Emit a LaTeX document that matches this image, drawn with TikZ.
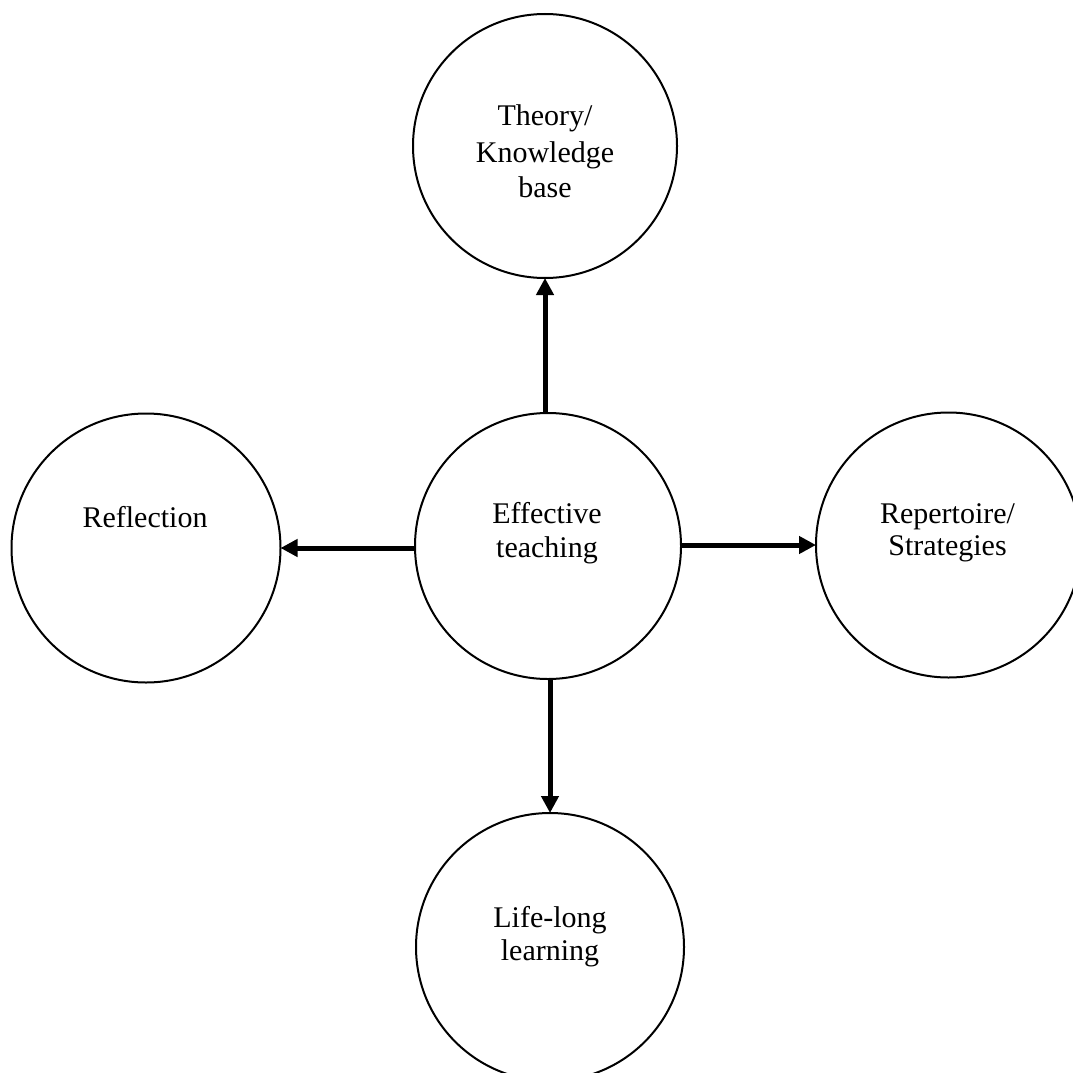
\documentclass[tikz,border=0pt]{standalone}
\usepackage{fontspec}
\setmainfont{Liberation Serif}
\usetikzlibrary{arrows.meta}
\begin{document}
\begin{tikzpicture}[x=1pt,y=-1pt,
  bubble/.style={circle,draw=black,line width=2pt,inner sep=0pt,outer sep=0pt,fill=none},
  lbl/.style={anchor=base,inner sep=0pt,font=\fontsize{30}{34}\selectfont},
  conn/.style={line width=5pt,-{Triangle[length=17pt,width=17pt]}}]
\useasboundingbox (0,0) rectangle (1072,1073);
\node[bubble,minimum size=264pt] (top) at (545,146) {};
\node[bubble,minimum size=266pt] (mid) at (548,546) {};
\node[bubble,minimum size=269pt] (left) at (146,548) {};
\node[bubble,minimum size=265pt] (right) at (948.5,545) {};
\node[bubble,minimum size=268pt] (bot) at (550,947) {};
\node[lbl] (t1) at (545,125) {Theory/};
\node[lbl] (t2) at (545,162) {Knowledge};
\node[lbl] (t3) at (545,197) {base};
\node[lbl] (m1) at (547,523) {Effective};
\node[lbl] (m2) at (547,557) {teaching};
\node[lbl] (l1) at (145,527) {Reflection};
\node[lbl] (r1) at (947.5,523) {Repertoire/};
\node[lbl] (r2) at (947.5,555) {Strategies};
\node[lbl] (b1) at (550,927) {Life-long};
\node[lbl] (b2) at (550,960) {learning};
\draw[conn] (mid.north -| top.south) -- (top.south);
\draw[conn] (mid.west |- left.east) -- (left.east);
\draw[conn] (mid.east |- right.west) -- (right.west);
\draw[conn] (mid.south -| bot.north) -- (bot.north);
\end{tikzpicture}
\end{document}
